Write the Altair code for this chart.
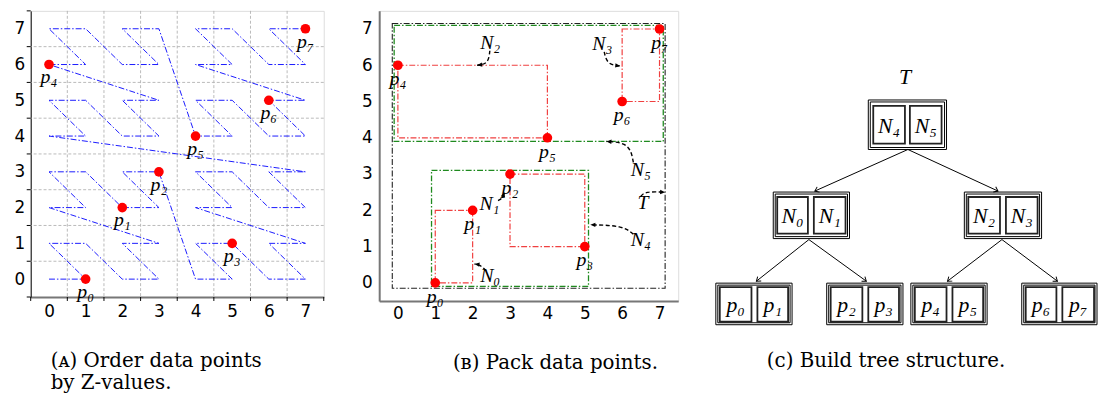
import math
import altair as alt
import pandas as pd

# ---------------- data ----------------
# Panel A: Z-order curve through the 8x8 grid (order of visiting cells)
z_x = [0, 1, 0, 1, 2, 3, 2, 3, 0, 1, 0, 1, 2, 3, 2, 3,
       4, 5, 4, 5, 6, 7, 6, 7, 4, 5, 4, 5, 6, 7, 6, 7,
       0, 1, 0, 1, 2, 3, 2, 3, 0, 1, 0, 1, 2, 3, 2, 3,
       4, 5, 4, 5, 6, 7, 6, 7, 4, 5, 4, 5, 6, 7, 6, 7]
z_y = [0, 0, 1, 1, 0, 0, 1, 1, 2, 2, 3, 3, 2, 2, 3, 3,
       0, 0, 1, 1, 0, 0, 1, 1, 2, 2, 3, 3, 2, 2, 3, 3,
       4, 4, 5, 5, 4, 4, 5, 5, 6, 6, 7, 7, 6, 6, 7, 7,
       4, 4, 5, 5, 4, 4, 5, 5, 6, 6, 7, 7, 6, 6, 7, 7]

pt_x = [1, 2, 3, 5, 0, 4, 6, 7]
pt_y = [0, 2, 3, 1, 6, 4, 5, 7]
pt_label = ["p₀", "p₁", "p₂", "p₃", "p₄", "p₅", "p₆", "p₇"]

tick_labels = [0, 1, 2, 3, 4, 5, 6, 7]
grid_half = [0.5, 1.5, 2.5, 3.5, 4.5, 5.5, 6.5]
minor_ticks = [-0.5, 0.5, 1.5, 2.5, 3.5, 4.5, 5.5, 6.5, 7.5]

# Panel B: bounding rectangles
red_id = ["N0", "N1", "N2", "N3"]
red_x1 = [1, 3, 0, 6]
red_x2 = [2, 5, 4, 7]
red_y1 = [0, 1, 4, 5]
red_y2 = [2, 3, 6, 7]

green_id = ["N4", "N5"]
green_x1 = [0.9, -0.1]
green_x2 = [5.1, 7.1]
green_y1 = [-0.1, 3.9]
green_y2 = [3.1, 7.1]

black_x1 = [-0.15]
black_x2 = [7.15]
black_y1 = [-0.15]
black_y2 = [7.15]

# Panel B: curved annotation arrows (start, bend, tip)
arr_id = ["N2"] * 3 + ["N3"] * 3 + ["N5"] * 3 + ["T"] * 3 + ["N4"] * 3 + ["N1"] * 3 + ["N0"] * 3
arr_x = [2.46, 2.42, 2.12,
         5.52, 5.60, 5.95,
         6.30, 6.20, 5.58,
         6.50, 6.60, 7.15,
         6.30, 6.02, 5.15,
         2.68, 2.80, 2.85,
         2.36, 2.20, 2.05]
arr_y = [6.40, 6.04, 6.00,
         6.37, 6.02, 5.98,
         3.32, 3.86, 3.90,
         2.38, 2.52, 2.50,
         1.34, 1.58, 1.60,
         2.27, 2.33, 2.50,
         0.33, 0.50, 0.52]
ann_text = ["N₂", "N₃", "N₅", "T", "N₄", "N₁", "N₀"]
ann_x = [2.47, 5.47, 6.50, 6.56, 6.50, 2.45, 2.47]
ann_y = [6.62, 6.58, 3.12, 2.20, 1.17, 2.17, 0.20]

# Panel C: tree (coordinates in the panel's own pixel-like units)
outer_x1 = [867, 771, 964, 713, 825, 910, 1022]
outer_x2 = [946, 848, 1042, 790, 902, 987, 1098]
outer_y1 = [98, 191, 191, 283, 283, 283, 283]
outer_y2 = [148, 238, 238, 325, 325, 325, 325]

cell_label = ["N₄", "N₅", "N₀", "N₁", "N₂", "N₃",
              "p₀", "p₁", "p₂", "p₃", "p₄", "p₅", "p₆", "p₇"]
cell_x1 = [872, 909, 775, 812, 968, 1006, 717, 755, 829, 867, 914, 952, 1026, 1063]
cell_x2 = [904, 941, 806, 844, 1000, 1038, 749, 786, 861, 898, 946, 983, 1057, 1095]
cell_y1 = [104, 104, 196, 196, 196, 196, 287, 287, 287, 287, 287, 287, 287, 287]
cell_y2 = [142, 142, 233, 233, 233, 233, 322, 322, 322, 322, 322, 322, 322, 322]

edge_x1 = [907, 907, 807, 807, 1002, 1002]
edge_y1 = [148, 148, 239, 239, 239, 239]
edge_x2 = [813, 998, 754, 865, 947, 1058]
edge_y2 = [190, 190, 281, 281, 281, 281]

root_label = ["T"]
root_x = [904]
root_y = [75]

# ---------------- style ----------------
MATH = "Liberation Serif, DejaVu Serif"
SANS = "DejaVu Sans"
CAP = "DejaVu Serif"
CAP_SIZE = 20

WA, HA = 296, 289
WB, HB = 302, 293
WC, HC = 383, 322
C_X0 = 715
C_Y0 = 8

# ---------------- panel A ----------------
sxA = alt.Scale(domain=[-0.5, 7.5], nice=False, zero=False)
syA = alt.Scale(domain=[-0.5, 7.5], nice=False, zero=False)
axA_x = alt.Axis(values=tick_labels, ticks=False, tickSize=0, labelPadding=7, labelFontSize=17,
                 labelFont=SANS, labelColor="black", domainColor="#777777", domainWidth=2,
                 grid=False, title=None, labelFlush=False)
axA_y = alt.Axis(values=tick_labels, ticks=False, tickSize=0, labelPadding=6, labelFontSize=17,
                 labelFont=SANS, labelColor="black", domainColor="black", domainWidth=1,
                 grid=False, title=None, labelFlush=False)
XA = lambda f: alt.X(f + ":Q", scale=sxA, axis=axA_x)
YA = lambda f: alt.Y(f + ":Q", scale=syA, axis=axA_y)

zdf = pd.DataFrame({"x": z_x, "y": z_y, "i": list(range(len(z_x)))})
pdf = pd.DataFrame({"x": pt_x, "y": pt_y, "lab": pt_label})
gdf = pd.DataFrame({"x": grid_half, "y": grid_half})
mdf = pd.DataFrame({"x": minor_ticks, "y": minor_ticks})

gridA_v = alt.Chart(gdf).mark_rule(color="#b3b3b3", strokeDash=[3, 2], strokeWidth=0.9).encode(x=XA("x"))
gridA_h = alt.Chart(gdf).mark_rule(color="#b3b3b3", strokeDash=[3, 2], strokeWidth=0.9).encode(y=YA("y"))
ticksA_x = alt.Chart(mdf).mark_rule(color="black", strokeWidth=1).encode(
    x=XA("x"), y=alt.value(HA), y2=alt.value(HA + 4))
ticksA_y = alt.Chart(mdf).mark_rule(color="black", strokeWidth=1).encode(
    y=YA("y"), x=alt.value(0), x2=alt.value(-4))
zline = alt.Chart(zdf).mark_line(color="#1a1aff", strokeWidth=1, strokeDash=[6, 2, 1.5, 2]).encode(
    x=XA("x"), y=YA("y"), order="i:Q")
ptsA = alt.Chart(pdf).mark_point(filled=True, color="#ff0000", size=95, opacity=1).encode(x=XA("x"), y=YA("y"))
labA = alt.Chart(pdf).mark_text(font=MATH, fontStyle="italic", fontSize=20, dy=13, baseline="middle",
                                color="black").encode(x=XA("x"), y=YA("y"), text="lab:N")

panelA = alt.layer(gridA_v, gridA_h, zline, ptsA, labA, ticksA_x, ticksA_y).properties(
    width=WA, height=HA,
    title=alt.TitleParams(text=["(ᴀ) Order data points", "by Z-values."], orient="bottom", anchor="start",
                          dx=37, offset=32, font=CAP, fontSize=CAP_SIZE, fontWeight="normal", lineHeight=22,
                          color="black"))

# ---------------- panel B ----------------
sxB = alt.Scale(domain=[-0.5, 7.5], nice=False, zero=False)
syB = alt.Scale(domain=[-0.5, 7.5], nice=False, zero=False)
axB_x = alt.Axis(values=tick_labels, ticks=False, tickSize=0, labelPadding=5, labelFontSize=17,
                 labelFont=SANS, labelColor="black", domainColor="#777777", domainWidth=2,
                 grid=False, title=None, labelFlush=False)
axB_y = alt.Axis(values=tick_labels, ticks=False, tickSize=0, labelPadding=7, labelFontSize=17,
                 labelFont=SANS, labelColor="black", domainColor="#777777", domainWidth=2,
                 grid=False, title=None, labelFlush=False)
XB = lambda f: alt.X(f + ":Q", scale=sxB, axis=axB_x)
YB = lambda f: alt.Y(f + ":Q", scale=syB, axis=axB_y)

def rect_layer(x1, x2, y1, y2, color, width):
    df = pd.DataFrame({"x": x1, "x2": x2, "y": y1, "y2": y2})
    return alt.Chart(df).mark_rect(filled=False, stroke=color, strokeWidth=width,
                                   strokeDash=[6, 2, 1.5, 2]).encode(
        x=XB("x"), x2="x2:Q", y=YB("y"), y2="y2:Q")

rect_black = rect_layer(black_x1, black_x2, black_y1, black_y2, "#222222", 1.1)
rect_green = rect_layer(green_x1, green_x2, green_y1, green_y2, "#1f8a1f", 1.3)
rect_red = rect_layer(red_x1, red_x2, red_y1, red_y2, "#f04040", 1.2)

ptsB = alt.Chart(pdf).mark_point(filled=True, color="#ff0000", size=95, opacity=1).encode(x=XB("x"), y=YB("y"))
labB = alt.Chart(pdf).mark_text(font=MATH, fontStyle="italic", fontSize=20, dy=14, baseline="middle",
                                color="black").encode(x=XB("x"), y=YB("y"), text="lab:N")

adf = pd.DataFrame({"id": arr_id, "x": arr_x, "y": arr_y, "k": [0, 1, 2] * 7})
curves = alt.Chart(adf).mark_line(color="black", strokeWidth=1.4, strokeDash=[4, 2.5],
                                  interpolate="basis").encode(
    x=XB("x"), y=YB("y"), detail="id:N", order="k:Q")

# arrowhead angles (screen space) from bend -> tip
pxB = WB / 8.0
pyB = HB / 8.0
tips = []
for j in range(7):
    bx, by = arr_x[3 * j + 1], arr_y[3 * j + 1]
    tx, ty = arr_x[3 * j + 2], arr_y[3 * j + 2]
    ang = math.degrees(math.atan2(-(ty - by) * pyB, (tx - bx) * pxB)) % 360
    tips.append({"x": tx, "y": ty, "ang": ang})
tipdf = pd.DataFrame(tips)
headsB = alt.Chart(tipdf).mark_point(shape="M0,0L-1.6,-0.7L-1.6,0.7Z", filled=True, color="black",
                                     size=40, opacity=1).encode(
    x=XB("x"), y=YB("y"), angle=alt.Angle("ang:Q", scale=None))

anndf = pd.DataFrame({"x": ann_x, "y": ann_y, "t": ann_text})
annB = alt.Chart(anndf).mark_text(font=MATH, fontStyle="italic", fontSize=20, baseline="middle",
                                  color="black").encode(x=XB("x"), y=YB("y"), text="t:N")

panelB = alt.layer(rect_black, rect_green, rect_red, curves, headsB, ptsB, labB, annB).properties(
    width=WB, height=HB,
    title=alt.TitleParams(text="(ʙ) Pack data points.", orient="bottom", anchor="middle",
                          dx=27, offset=32, font=CAP, fontSize=CAP_SIZE, fontWeight="normal",
                          color="black"))

# ---------------- panel C ----------------
sxC = alt.Scale(domain=[C_X0, C_X0 + WC], nice=False, zero=False)
syC = alt.Scale(domain=[C_Y0 + HC, C_Y0], nice=False, zero=False)
XC = lambda f: alt.X(f + ":Q", scale=sxC, axis=None)
YC = lambda f: alt.Y(f + ":Q", scale=syC, axis=None)

odf = pd.DataFrame({"x": outer_x1, "x2": outer_x2, "y": outer_y1, "y2": outer_y2})
odf_in = pd.DataFrame({"x": [v + 2 for v in outer_x1], "x2": [v - 2 for v in outer_x2],
                       "y": [v + 2 for v in outer_y1], "y2": [v - 2 for v in outer_y2]})
cdf = pd.DataFrame({"x": cell_x1, "x2": cell_x2, "y": cell_y1, "y2": cell_y2, "lab": cell_label,
                    "cx": [(a + b) / 2 for a, b in zip(cell_x1, cell_x2)],
                    "cy": [(a + b) / 2 for a, b in zip(cell_y1, cell_y2)]})

outer1 = alt.Chart(odf).mark_rect(filled=False, stroke="black", strokeWidth=1).encode(
    x=XC("x"), x2="x2:Q", y=YC("y"), y2="y2:Q")
outer2 = alt.Chart(odf_in).mark_rect(filled=False, stroke="black", strokeWidth=1).encode(
    x=XC("x"), x2="x2:Q", y=YC("y"), y2="y2:Q")
cells = alt.Chart(cdf).mark_rect(filled=False, stroke="#222222", strokeWidth=1.8).encode(
    x=XC("x"), x2="x2:Q", y=YC("y"), y2="y2:Q")
cell_txt = alt.Chart(cdf).mark_text(font=MATH, fontStyle="italic", fontSize=22, baseline="middle",
                                    dy=1, color="black").encode(x=XC("cx"), y=YC("cy"), text="lab:N")

edf = pd.DataFrame({"x": edge_x1, "y": edge_y1, "x2": edge_x2, "y2": edge_y2})
edges = alt.Chart(edf).mark_rule(color="black", strokeWidth=1).encode(
    x=XC("x"), y=YC("y"), x2="x2:Q", y2="y2:Q")
heads = []
for a, b, c, d in zip(edge_x1, edge_y1, edge_x2, edge_y2):
    heads.append({"x": c, "y": d, "ang": math.degrees(math.atan2(d - b, c - a)) % 360})
hdf = pd.DataFrame(heads)
headsC = alt.Chart(hdf).mark_point(shape="M-1,-0.75L0,0L-1,0.75", filled=False, stroke="black",
                                   strokeWidth=1, size=60, opacity=1).encode(
    x=XC("x"), y=YC("y"), angle=alt.Angle("ang:Q", scale=None))

rdf = pd.DataFrame({"x": root_x, "y": root_y, "t": root_label})
rootT = alt.Chart(rdf).mark_text(font=MATH, fontStyle="italic", fontSize=22, baseline="middle",
                                 color="black").encode(x=XC("x"), y=YC("y"), text="t:N")

panelC = alt.layer(edges, headsC, outer1, outer2, cells, cell_txt, rootT).properties(
    width=WC, height=HC,
    view=alt.ViewBackground(stroke="transparent"),
    title=alt.TitleParams(text="(ᴄ) Build tree structure.", orient="bottom", anchor="start",
                          dx=52, offset=22, font=CAP, fontSize=CAP_SIZE, fontWeight="normal",
                          color="black"))

chart = alt.hconcat(panelA, panelB, panelC, spacing=36).properties(
    padding={"left": 13, "top": 8, "right": 0, "bottom": 0}
).configure_view(stroke="black", strokeWidth=1).configure(background="white")

chart.save("out.html", embed_options={"renderer": "svg", "actions": False})
